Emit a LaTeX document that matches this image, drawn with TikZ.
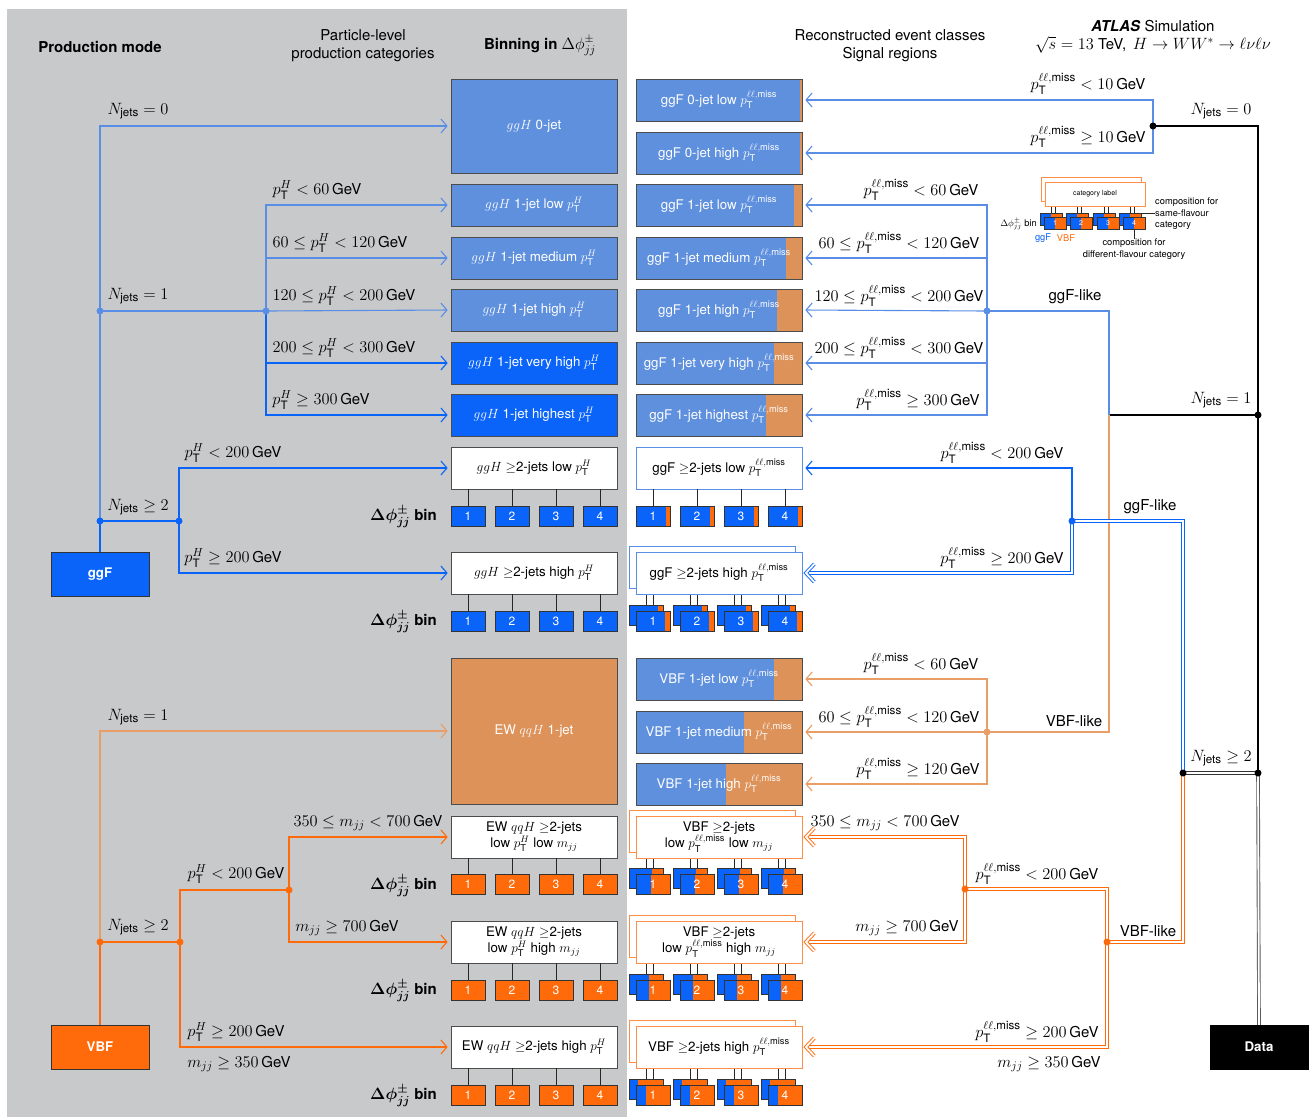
\RequirePackage{fix-cm}
\documentclass[tikz,border=0pt]{standalone}
\usepackage{amsmath,amssymb}
\usepackage[no-math]{fontspec}
\setmainfont{TeX Gyre Heros}
\usetikzlibrary{arrows.meta,calc}
\pgfdeclarelayer{bg}
\pgfdeclarelayer{lines}
\pgfsetlayers{bg,lines,main}
\DeclareMathSizes{15}{16.4}{11.6}{9}
\definecolor{bgray}{HTML}{C8C9CB}
\definecolor{mblue}{HTML}{5F90DE}
\definecolor{bblue}{HTML}{0A64FA}
\definecolor{peach}{HTML}{DD925A}
\definecolor{borange}{HTML}{FF6A0A}
\definecolor{mline}{HTML}{5A8EE6}
\definecolor{pline}{HTML}{E99E68}
\newcommand{\ptH}{p_{\text{T}}^{H}}
\newcommand{\ptll}{p_{\text{T}}^{\ell\ell,\text{miss}}}
\newcommand{\Nj}{N_{\text{jets}}}
\newcommand{\gev}{\,\text{GeV}}
\newcommand{\fsL}{\fontsize{15}{18}\selectfont}
\newcommand{\fsB}{\fontsize{13.3}{16}\selectfont}
\newcommand{\fsN}{\fontsize{12}{14}\selectfont}
\newcommand{\fsS}{\fontsize{9.3}{11.5}\selectfont}
\newcommand{\fsT}{\fontsize{7}{8}\selectfont}
\newcommand{\dphibin}{{\bfseries\boldmath$\Delta\phi^{\pm}_{jj}$ bin}}
\newcommand{\dchev}[2]{\draw[dblline, #1, line join=miter] ($(#2)+(12,-9)$) -- ($(#2)+(3.5,0)$) -- ($(#2)+(12,9)$);}
\tikzset{
  every node/.style={inner sep=0pt},
  lbl/.style={font=\fsL, align=center},
  catbox/.style={draw=black!70, line width=0.7pt, minimum width=166pt, minimum height=42pt, font=\fsB, align=center, text=white},
  wcat/.style={catbox, fill=white, text=black},
  bincell/.style={draw=black!80, line width=0.7pt, minimum width=34pt, minimum height=20pt, font=\fsN, text=white},
  lbin/.style={draw=black!80, line width=0.5pt, minimum width=22pt, minimum height=12pt, font=\fsT, text=white, fill=borange, leftpart={bblue}{11}},
  jdot/.style={circle, fill=#1, minimum size=7pt},
  lnA/.style={line width=1.1pt},
  arrS/.style={lnA, shorten >=3pt, -{Straight Barb[length=6pt,width=14pt,line width=1.1pt]}},
  dblline/.style={line width=0.9pt, double=white, double distance=1.8pt},
  arrD/.style={dblline, shorten >=4pt},
  connL/.style={line width=0.7pt, draw=black!85},
  rightpart/.style 2 args={path picture={\fill[#1] ([xshift=-#2]path picture bounding box.north east) rectangle (path picture bounding box.south east);}},
  leftpart/.style 2 args={path picture={\fill[#1] (path picture bounding box.south west) rectangle ([xshift=#2]path picture bounding box.north west);}},
}
\begin{document}
\begin{tikzpicture}[x=1pt,y=-1pt]
\useasboundingbox (0,0) rectangle (1314,1117);
\begin{pgfonlayer}{bg}
\fill[white] (0,0) rectangle (1314,1117);
\fill[bgray] (7,9) rectangle (627,1117);
\end{pgfonlayer}

% ---------- headers
\node[lbl, font=\fsL\bfseries] (hprod) at (100,47) {Production mode};
\node[lbl] (hpart) at (363,46) {Particle-level\\production categories};
\node[lbl] (hbin) at (540,46) {\textbf{Binning in} $\Delta\phi^{\pm}_{jj}$};
\node[lbl] (hreco) at (890,46) {Reconstructed event classes\\Signal regions};
\node[lbl] (hatl) at (1153,26) {\textbf{\textit{ATLAS}} Simulation};
\node[lbl] (hcm) at (1153,45) {$\sqrt{s}=13$ TeV,\, $H\to WW^{*}\to\ell\nu\ell\nu$};

% ---------- production mode boxes
\node[draw=black!80, line width=0.7pt, fill=bblue, minimum width=98pt, minimum height=44pt, text=white, font=\fsB\bfseries] (ggF) at (100,574) {ggF};
\node[draw=black!80, line width=0.7pt, fill=borange, minimum width=98pt, minimum height=44pt, text=white, font=\fsB\bfseries] (VBF) at (100,1047) {VBF};
\node[draw=black, fill=black, minimum width=98pt, minimum height=44pt, text=white, font=\fsB\bfseries] (Data) at (1259,1047) {Data};

% ---------- particle-level categories
\node[catbox, fill=mblue, minimum height=94pt] (c0) at (534,126) {$ggH$ 0-jet};
\node[catbox, fill=mblue] (c1l) at (534,205) {$ggH$ 1-jet low $\ptH$};
\node[catbox, fill=mblue] (c1m) at (534,258) {$ggH$ 1-jet medium $\ptH$};
\node[catbox, fill=mblue] (c1h) at (534,310) {$ggH$ 1-jet high $\ptH$};
\node[catbox, fill=bblue] (c1v) at (534,363) {$ggH$ 1-jet very high $\ptH$};
\node[catbox, fill=bblue] (c1x) at (534,415) {$ggH$ 1-jet highest $\ptH$};
\node[wcat] (c2l) at (534,468) {$ggH$ $\geq$2-jets low $\ptH$};
\node[wcat] (c2h) at (534,573) {$ggH$ $\geq$2-jets high $\ptH$};
\node[catbox, fill=peach, minimum height=146pt] (q1) at (534,731) {EW $qqH$ 1-jet};
\node[wcat] (q2a) at (534,837) {EW $qqH$ $\geq$2-jets\\low $\ptH$ low $m_{jj}$};
\node[wcat] (q2b) at (534,942) {EW $qqH$ $\geq$2-jets\\low $\ptH$ high $m_{jj}$};
\node[wcat] (q2c) at (534,1047) {EW $qqH$ $\geq$2-jets high $\ptH$};

\foreach \r/\yy/\cc in {c2l/516/bblue, c2h/621/bblue, q2a/884/borange, q2b/990/borange, q2c/1095/borange}{
  \foreach \i/\xx in {1/468,2/512,3/556,4/600}{
    \node[bincell, fill=\cc] (\r-\i) at (\xx,\yy) {\i};
    \draw[connL] (\r-\i.north) -- (\r-\i.north |- \r.south);
  }
}
\node[font=\fsL, anchor=east] (d1) at (437,517) {\dphibin};
\node[font=\fsL, anchor=east] (d2) at (437,622) {\dphibin};
\node[font=\fsL, anchor=east] (d3) at (437,886) {\dphibin};
\node[font=\fsL, anchor=east] (d4) at (437,991) {\dphibin};
\node[font=\fsL, anchor=east] (d5) at (437,1096) {\dphibin};

% ---------- reconstructed categories
\node[catbox, fill=mblue, rightpart={peach}{2}] (r0l) at (719,100) {ggF 0-jet low $\ptll$};
\node[catbox, fill=mblue, rightpart={peach}{2}] (r0h) at (719,153) {ggF 0-jet high $\ptll$};
\node[catbox, fill=mblue, rightpart={peach}{8}] (r1l) at (719,205) {ggF 1-jet low $\ptll$};
\node[catbox, fill=mblue, rightpart={peach}{16}] (r1m) at (719,258) {ggF 1-jet medium $\ptll$};
\node[catbox, fill=mblue, rightpart={peach}{25}] (r1h) at (719,310) {ggF 1-jet high $\ptll$};
\node[catbox, fill=mblue, rightpart={peach}{28}] (r1v) at (719,363) {ggF 1-jet very high $\ptll$};
\node[catbox, fill=mblue, rightpart={peach}{36}] (r1x) at (719,415) {ggF 1-jet highest $\ptll$};
\node[wcat, draw=mline] (r2l) at (719,468) {ggF $\geq$2-jets low $\ptll$};
\node[wcat, draw=mline] (r2hb) at (712,567) {};
\node[wcat, draw=mline] (r2h) at (719,573) {ggF $\geq$2-jets high $\ptll$};
\node[catbox, fill=mblue, rightpart={peach}{28}] (v1l) at (719,679) {VBF 1-jet low $\ptll$};
\node[catbox, fill=mblue, rightpart={peach}{58}] (v1m) at (719,732) {VBF 1-jet medium $\ptll$};
\node[catbox, fill=mblue, rightpart={peach}{76}] (v1h) at (719,784) {VBF 1-jet high $\ptll$};
\node[wcat, draw=borange!75] (v2ab) at (712,831) {};
\node[wcat, draw=borange!75] (v2a) at (719,837) {VBF $\geq$2-jets\\low $\ptll$ low $m_{jj}$};
\node[wcat, draw=borange!75] (v2bb) at (712,936) {};
\node[wcat, draw=borange!75] (v2b) at (719,942) {VBF $\geq$2-jets\\low $\ptll$ high $m_{jj}$};
\node[wcat, draw=borange!75] (v2cb) at (712,1041) {};
\node[wcat, draw=borange!75] (v2c) at (719,1047) {VBF $\geq$2-jets high $\ptll$};

\foreach \i/\xx in {1/653,2/697,3/741,4/785}{
  \node[bincell, fill=bblue, rightpart={borange}{4}] (r2l-\i) at (\xx,516) {\i};
  \draw[connL] (r2l-\i.north) -- (r2l-\i.north |- r2l.south);
  \node[bincell, fill=bblue, rightpart={borange}{5}] (r2h-b\i) at (\xx-7,615) {};
  \node[bincell, fill=bblue, rightpart={borange}{5}] (r2h-\i) at (\xx,621) {\i};
  \begin{pgfonlayer}{lines}
  \draw[connL] (r2h-b\i.north) -- (r2h-b\i.north |- r2h.south);
  \draw[connL] (r2h-\i.north) -- (r2h-\i.north |- r2h.south);
  \end{pgfonlayer}
}
\foreach \r/\yy/\fw/\bw in {v2a/884/15/23, v2b/990/13/20, v2c/1095/10/9}{
  \foreach \i/\xx in {1/653,2/697,3/741,4/785}{
    \node[bincell, fill=borange, leftpart={bblue}{\bw}] (\r-b\i) at (\xx-7,\yy-6) {};
    \node[bincell, fill=borange, leftpart={bblue}{\fw}] (\r-\i) at (\xx,\yy) {\i};
    \begin{pgfonlayer}{lines}
    \draw[connL] (\r-b\i.north) -- (\r-b\i.north |- \r.south);
    \draw[connL] (\r-\i.north) -- (\r-\i.north |- \r.south);
    \end{pgfonlayer}
  }
}

% ---------- left ggF tree
\node[jdot=mline] (gA) at (100,311) {};
\node[jdot=bblue] (gB) at (100,521) {};
\node[jdot=mline] (g1) at (266,311) {};
\node[jdot=bblue] (g2) at (179,521) {};
\begin{pgfonlayer}{lines}
\draw[lnA, bblue] (ggF.north) -- (gB.center);
\draw[arrS, mline] (gB.center) |- (c0.west);
\draw[lnA, mline] (gA.center) -- (g1.center);
\draw[arrS, mline] (g1.center) |- (c1l.west);
\draw[arrS, mline] (g1.center) |- (c1m.west);
\draw[arrS, mline] (g1.center) -- (c1h.west);
\draw[arrS, bblue] (g1.center) |- (c1v.west);
\draw[arrS, bblue] (g1.center) |- (c1x.west);
\draw[lnA, bblue] (gB.center) -- (g2.center);
\draw[arrS, bblue] (g2.center) |- (c2l.west);
\draw[arrS, bblue] (g2.center) |- (c2h.west);
\end{pgfonlayer}
\node[lbl] (lg0) at (138,111) {$\Nj = 0$};
\node[lbl] (lg1) at (138,296) {$\Nj = 1$};
\node[lbl] (lg2) at (138,507) {$\Nj \geq 2$};
\node[lbl] (lp1) at (317,190) {$\ptH < 60\gev$};
\node[lbl] (lp2) at (340,243) {$60 \leq \ptH < 120\gev$};
\node[lbl] (lp3) at (344,296) {$120 \leq \ptH < 200\gev$};
\node[lbl] (lp4) at (344,348) {$200 \leq \ptH < 300\gev$};
\node[lbl] (lp5) at (321,400) {$\ptH \geq 300\gev$};
\node[lbl] (lp6) at (233,453) {$\ptH < 200\gev$};
\node[lbl] (lp7) at (233,558) {$\ptH \geq 200\gev$};

% ---------- left VBF tree
\node[jdot=borange] (vA) at (100,942) {};
\node[jdot=borange] (vB) at (180,942) {};
\node[jdot=borange] (vC) at (289,890) {};
\begin{pgfonlayer}{lines}
\draw[lnA, borange] (VBF.north) -- (vA.center);
\draw[arrS, pline] (vA.center) |- (q1.west);
\draw[lnA, borange] (vA.center) -- (vB.center);
\draw[lnA, borange] (vB.center) |- (vC.center);
\draw[arrS, borange] (vB.center) |- (q2c.west);
\draw[arrS, borange] (vC.center) |- (q2a.west);
\draw[arrS, borange] (vC.center) |- (q2b.west);
\end{pgfonlayer}
\node[lbl] (lv1) at (138,717) {$\Nj = 1$};
\node[lbl] (lv2) at (138,927) {$\Nj \geq 2$};
\node[lbl] (lv3) at (236,874) {$\ptH < 200\gev$};
\node[lbl] (lv4) at (368,823) {$350 \leq m_{jj} < 700\gev$};
\node[lbl] (lv5) at (347,928) {$m_{jj} \geq 700\gev$};
\node[lbl] (lv6) at (236,1032) {$\ptH \geq 200\gev$};
\node[lbl] (lv7) at (239,1064) {$m_{jj} \geq 350\gev$};

% ---------- right tree
\node[jdot=black] (k0) at (1153,126) {};
\node[jdot=black] (k1) at (1258,415) {};
\node[jdot=black] (k2a) at (1183,773) {};
\node[jdot=black] (k2b) at (1258,773) {};
\coordinate (j1) at (1109,415);
\node[jdot=mline] (jb) at (987,311) {};
\node[jdot=pline] (jv) at (987,732) {};
\node[jdot=bblue] (d2g) at (1072,521) {};
\node[jdot=borange] (d2v) at (1107,942) {};
\node[jdot=borange] (d2l) at (965,889) {};
\begin{pgfonlayer}{lines}
\draw[dblline, black!65] (Data.north) -- (k2b.center);
\draw[dblline, black!80] (k2b.center) -- (k2a.center);
\draw[lnA, black] (k2b.center) -- (k1.center);
\draw[lnA, black] (k1.center) |- (k0.center);
\draw[lnA, black] (k1.center) -- (j1);
\draw[arrS, mline] (k0.center) |- (r0l.east);
\draw[arrS, mline] (k0.center) |- (r0h.east);
\draw[lnA, pline] (j1) |- (jv.center);
\draw[lnA, mline] (j1) |- (jb.center);
\draw[arrS, mline] (jb.center) |- (r1l.east);
\draw[arrS, mline] (jb.center) |- (r1m.east);
\draw[arrS, mline] (jb.center) -- (r1h.east);
\draw[arrS, mline] (jb.center) |- (r1v.east);
\draw[arrS, mline] (jb.center) |- (r1x.east);
\draw[arrS, pline] (jv.center) |- (v1l.east);
\draw[arrS, pline] (jv.center) -- (v1m.east);
\draw[arrS, pline] (jv.center) |- (v1h.east);
\draw[dblline, bblue] (k2a.center) |- (d2g.center);
\draw[dblline, borange] (k2a.center) |- (d2v.center);
\draw[arrS, bblue] (d2g.center) |- (r2l.east);
\draw[arrD, bblue] (d2g.center) |- (r2h.east);
\dchev{bblue}{r2h.east}
\draw[dblline, borange] (d2v.center) |- (d2l.center);
\draw[arrD, borange] (d2v.center) |- (v2c.east);
\dchev{borange}{v2c.east}
\draw[arrD, borange] (d2l.center) |- (v2a.east);
\dchev{borange}{v2a.east}
\draw[arrD, borange] (d2l.center) |- (v2b.east);
\dchev{borange}{v2b.east}
\end{pgfonlayer}
\node[lbl] (rl1) at (1088,84) {$\ptll < 10\gev$};
\node[lbl] (rl2) at (1088,137) {$\ptll \geq 10\gev$};
\node[lbl] (rn0) at (1221,111) {$\Nj = 0$};
\node[lbl] (rn1) at (1221,400) {$\Nj = 1$};
\node[lbl] (rn2) at (1221,758) {$\Nj \geq 2$};
\node[lbl] (rb1) at (921,190) {$\ptll < 60\gev$};
\node[lbl] (rb2) at (899,243) {$60 \leq \ptll < 120\gev$};
\node[lbl] (rb3) at (899,296) {$120 \leq \ptll < 200\gev$};
\node[lbl] (rb4) at (899,348) {$200 \leq \ptll < 300\gev$};
\node[lbl] (rb5) at (918,400) {$\ptll \geq 300\gev$};
\node[lbl] (rgl1) at (1075,297) {ggF-like};
\node[lbl] (rb6) at (1002,453) {$\ptll < 200\gev$};
\node[lbl] (rb7) at (1002,558) {$\ptll \geq 200\gev$};
\node[lbl] (rgl2) at (1150,507) {ggF-like};
\node[lbl] (rv1) at (921,664) {$\ptll < 60\gev$};
\node[lbl] (rv2) at (899,717) {$60 \leq \ptll < 120\gev$};
\node[lbl] (rv3) at (918,769) {$\ptll \geq 120\gev$};
\node[lbl] (rvl1) at (1074,721) {VBF-like};
\node[lbl] (rv4) at (885,823) {$350 \leq m_{jj} < 700\gev$};
\node[lbl] (rv5) at (1037,874) {$\ptll < 200\gev$};
\node[lbl] (rv6) at (907,928) {$m_{jj} \geq 700\gev$};
\node[lbl] (rvl2) at (1148,931) {VBF-like};
\node[lbl] (rv7) at (1037,1032) {$\ptll \geq 200\gev$};
\node[lbl] (rv8) at (1049,1064) {$m_{jj} \geq 350\gev$};

% ---------- legend
\node[draw=borange!75, line width=0.6pt, fill=white, minimum width=100pt, minimum height=24pt] (lgb) at (1091,189) {};
\node[draw=borange!75, line width=0.6pt, fill=white, minimum width=100pt, minimum height=24pt, font=\fsT] (lgf) at (1095,194) {category label};
\foreach \i/\xx in {1/1055,2/1081,3/1108,4/1134}{
  \node[lbin] (lb-\i) at (\xx-4,219) {};
  \node[lbin] (lf-\i) at (\xx,223) {\i};
  \begin{pgfonlayer}{lines}
  \draw[connL, line width=0.5pt] (lb-\i.north) -- (lb-\i.north |- lgf.south);
  \draw[connL, line width=0.5pt] (lf-\i.north) -- (lf-\i.north |- lgf.south);
  \end{pgfonlayer}
}
\node[font=\fsS, anchor=east] (ldp) at (1037,224) {$\Delta\phi^{\pm}_{jj}$ bin};
\node[font=\fsS, text=bblue] (lggf) at (1043,238) {ggF};
\node[font=\fsS, text=borange] (lvbf) at (1066,238) {VBF};
\node[font=\fsS, anchor=west, align=left] (lsf) at (1155,214) {composition for\\same-flavour\\category};
\node[font=\fsS, align=center] (ldf) at (1134,249) {composition for\\different-flavour category};
\draw[connL, line width=0.5pt] (lb-4.north east) -- (lsf.west |- lb-4.north east);
\draw[connL, line width=0.5pt] (lf-4.south) -- (lf-4.south |- ldf.north);
\end{tikzpicture}
\end{document}
